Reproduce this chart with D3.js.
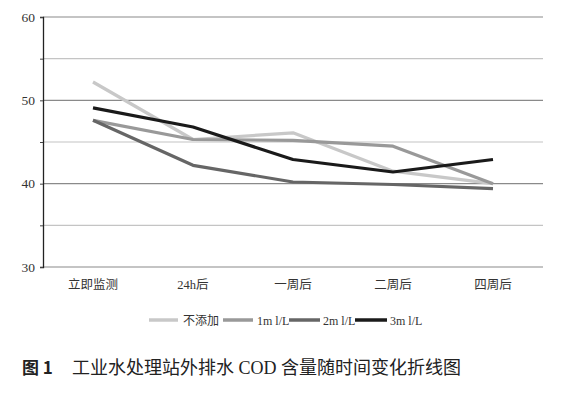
<!DOCTYPE html>
<html>
<head>
<meta charset="utf-8">
<script src="https://cdn.jsdelivr.net/npm/d3@7"></script>
<style>
  body { margin: 0; background: #fff; }
  text { font-family: "Liberation Serif", "Noto Sans CJK SC", serif; }
</style>
</head>
<body>
<div id="graph"></div>
<script>
const categories = ['立即监测', '24h后', '一周后', '二周后', '四周后'];
const seriesNames = ['不添加', '1m l/L', '2m l/L', '3m l/L'];
const noAdd = [52.2, 45.3, 46.1, 41.5, 40.0];
const add1 = [47.6, 45.3, 45.2, 44.5, 40.0];
const add2 = [47.6, 42.2, 40.2, 39.9, 39.4];
const add3 = [49.1, 46.8, 42.9, 41.4, 42.9];
const yTicks = [30, 40, 50, 60];
const yMinor = [35, 45, 55];

const colors = ['#c8c8c8', '#999999', '#666666', '#1a1a1a'];
const series = [noAdd, add1, add2, add3];

const width = 578, height = 393;
const margin = { top: 17, left: 43, right: 35, bottom: 126 };

const svg = d3.select('#graph')
  .append('svg')
  .attr('width', width)
  .attr('height', height);

const x = d3.scalePoint()
  .domain(categories)
  .range([margin.left, width - margin.right])
  .padding(0.5);

const y = d3.scaleLinear()
  .domain([30, 60])
  .range([height - margin.bottom, margin.top]);

// minor gridlines
svg.append('g')
  .selectAll('line')
  .data(yMinor)
  .enter()
  .append('line')
  .attr('x1', margin.left)
  .attr('x2', width - margin.right)
  .attr('y1', (d) => y(d))
  .attr('y2', (d) => y(d))
  .attr('stroke', '#c4c4c4')
  .attr('stroke-width', 1.2);

// major gridlines
svg.append('g')
  .selectAll('line')
  .data(yTicks)
  .enter()
  .append('line')
  .attr('x1', margin.left)
  .attr('x2', width - margin.right)
  .attr('y1', (d) => y(d))
  .attr('y2', (d) => y(d))
  .attr('stroke', '#8a8a8a')
  .attr('stroke-width', 1.2);

// y axis
const yAxis = d3.axisLeft(y)
  .tickValues(yTicks.concat(yMinor))
  .tickSize(3)
  .tickFormat((d) => yTicks.includes(d) ? d : '');

svg.append('g')
  .attr('transform', `translate(${margin.left}, 0)`)
  .call(yAxis)
  .call((g) => g.select('.domain').attr('stroke', '#222').attr('stroke-width', 1.3))
  .call((g) => g.selectAll('.tick line').attr('stroke', '#444'))
  .selectAll('text')
  .attr('x', -8)
  .style('font-size', '13.5px')
  .style('fill', '#333');

// x labels
svg.append('g')
  .selectAll('text')
  .data(categories)
  .enter()
  .append('text')
  .attr('x', (d) => x(d))
  .attr('y', y(30) + 22)
  .attr('text-anchor', 'middle')
  .style('font-size', '12.5px')
  .style('fill', '#333')
  .text((d) => d);

// lines
const line = d3.line()
  .x((d, i) => x(categories[i]))
  .y((d) => y(d));

svg.append('g')
  .selectAll('path')
  .data(series)
  .enter()
  .append('path')
  .attr('d', (d) => line(d))
  .attr('fill', 'none')
  .attr('stroke', (d, i) => colors[i])
  .attr('stroke-width', 3.2)
  .attr('stroke-linejoin', 'round');

// legend
const legendItems = [
  { x1: 149, x2: 178, tx: 183 },
  { x1: 223, x2: 253, tx: 257 },
  { x1: 289, x2: 320, tx: 323 },
  { x1: 355, x2: 387, tx: 390 }
];
const legendY = 320;
const legend = svg.append('g');
legendItems.forEach((it, i) => {
  legend.append('line')
    .attr('x1', it.x1)
    .attr('x2', it.x2)
    .attr('y1', legendY)
    .attr('y2', legendY)
    .attr('stroke', colors[i])
    .attr('stroke-width', 3.5);
  legend.append('text')
    .attr('x', it.tx)
    .attr('y', legendY + 4.5)
    .style('font-size', '12px')
    .style('fill', '#333')
    .text(seriesNames[i]);
});

// caption
svg.append('text')
  .attr('x', 22)
  .attr('y', 374)
  .style('font-size', '17px')
  .style('font-weight', 'bold')
  .style('font-family', '"Noto Sans CJK SC", sans-serif')
  .style('fill', '#222')
  .text('图 1');

svg.append('text')
  .attr('x', 72)
  .attr('y', 374)
  .style('font-size', '18px')
  .style('fill', '#222')
  .text('工业水处理站外排水 COD 含量随时间变化折线图');
</script>
</body>
</html>
